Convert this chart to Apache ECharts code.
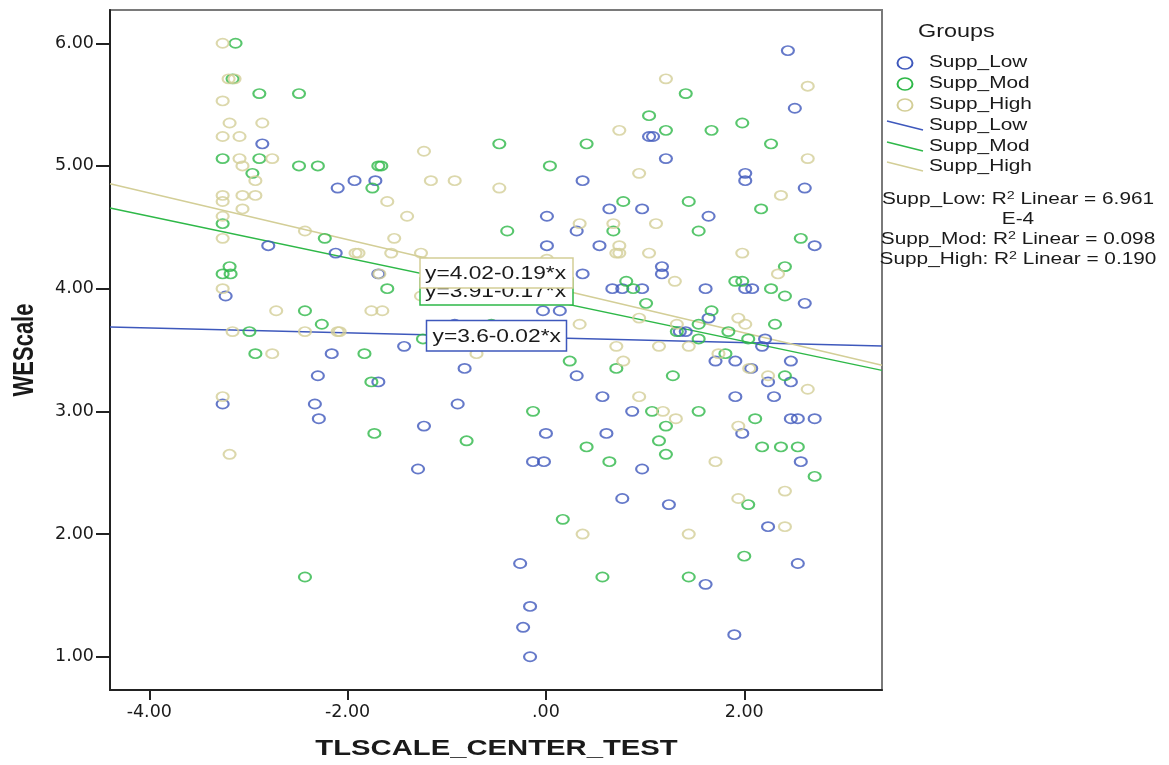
<!DOCTYPE html>
<html>
<head>
<meta charset="utf-8">
<script src="https://cdn.jsdelivr.net/npm/echarts@6/dist/echarts.min.js"></script>
<style>
html,body{margin:0;padding:0;background:#fff;}
#chart{width:1169px;height:765px;}
</style>
</head>
<body>
<div id="chart"></div>
<script>
// ---------------- data ----------------
const groupNames = ['Supp_Low', 'Supp_Mod', 'Supp_High'];
const groupColors = ['#3e58bc', '#2eb848', '#d3ce97'];

const lowData = [
  [-2.86,5.18],[-2.10,4.82],[-1.93,4.88],[-1.72,4.88],[-2.80,4.35],[-2.12,4.29],[-1.69,4.12],[-3.23,3.94],
  [-1.43,3.53],[-2.16,3.47],[-2.30,3.29],[-1.69,3.24],[-0.82,3.35],[-3.26,3.06],[-2.33,3.06],[-2.29,2.94],
  [-0.89,3.06],[-1.23,2.88],[-1.29,2.53],[-0.92,3.71],
  [2.44,5.94],[2.51,5.47],[1.04,5.24],[1.08,5.24],[1.21,5.06],[0.37,4.88],[2.01,4.94],[2.01,4.88],
  [2.61,4.82],[0.01,4.59],[0.64,4.65],[0.97,4.65],[1.64,4.59],[0.31,4.47],[2.71,4.35],[0.01,4.35],
  [0.54,4.35],[0.37,4.12],[1.17,4.18],[1.17,4.12],[1.61,4.00],[0.67,4.00],[0.77,4.00],[0.97,4.00],
  [-0.03,3.82],[0.14,3.82],[2.01,4.00],[2.08,4.00],[2.61,3.88],[1.64,3.76],[1.35,3.65],[1.41,3.65],
  [2.21,3.59],[2.18,3.53],[0.31,3.29],[1.71,3.41],[1.91,3.41],[2.07,3.35],[2.47,3.41],[2.24,3.24],
  [2.47,3.24],[0.57,3.12],[1.91,3.12],[2.30,3.12],[0.87,3.00],[2.47,2.94],[2.54,2.94],[2.71,2.94],
  [0.00,2.82],[0.61,2.82],[1.98,2.82],[-0.13,2.59],[-0.02,2.59],[0.97,2.53],[2.57,2.59],[0.77,2.29],
  [1.24,2.24],[2.24,2.06],[-0.26,1.76],[2.54,1.76],[1.61,1.59],[-0.16,1.41],[-0.23,1.24],[1.90,1.18],
  [-0.16,1.00]
];

const modData = [
  [-3.13,6.00],[-3.16,5.71],[-2.89,5.59],[-2.49,5.59],[-3.26,5.06],[-2.89,5.06],[-2.96,4.94],[-2.49,5.00],
  [-2.30,5.00],[-1.69,5.00],[-1.66,5.00],[-1.75,4.82],[-0.47,5.18],[-3.26,4.53],[-2.23,4.41],[-3.19,4.18],
  [-3.26,4.12],[-3.18,4.12],[-1.60,4.00],[-2.43,3.82],[-2.26,3.71],[-2.99,3.65],[-1.24,3.59],[-2.93,3.47],
  [-1.83,3.47],[-1.76,3.24],[-1.73,2.82],[-0.80,2.76],[-2.43,1.65],[-0.55,3.71],
  [1.41,5.59],[1.04,5.41],[1.21,5.29],[1.67,5.29],[1.98,5.35],[0.41,5.18],[2.27,5.18],[0.04,5.00],
  [0.78,4.71],[1.44,4.71],[2.17,4.65],[-0.39,4.47],[0.68,4.47],[1.54,4.47],[2.57,4.41],[0.81,4.06],
  [0.88,4.00],[1.01,3.88],[1.91,4.06],[1.98,4.06],[2.27,4.00],[2.41,4.18],[2.41,3.94],[1.67,3.82],
  [2.31,3.71],[1.32,3.65],[1.54,3.71],[1.54,3.59],[1.84,3.65],[2.04,3.59],[0.24,3.41],[0.71,3.35],
  [1.28,3.29],[1.81,3.47],[2.41,3.29],[-0.13,3.00],[1.07,3.00],[1.54,3.00],[2.11,2.94],[1.21,2.88],
  [1.14,2.76],[0.41,2.71],[1.21,2.65],[2.18,2.71],[2.37,2.71],[2.54,2.71],[0.64,2.59],[2.71,2.47],
  [2.04,2.24],[0.17,2.12],[2.00,1.82],[0.57,1.65],[1.44,1.65]
];

const highData = [
  [-3.26,6.00],[-3.20,5.71],[-3.14,5.71],[-3.26,5.53],[-3.19,5.35],[-2.86,5.35],[-3.26,5.24],[-3.09,5.24],
  [-3.09,5.06],[-3.06,5.00],[-2.76,5.06],[-2.93,4.88],[-1.23,5.12],[-1.16,4.88],[-0.92,4.88],[-0.47,4.82],
  [-3.26,4.76],[-3.26,4.71],[-3.06,4.76],[-2.93,4.76],[-3.06,4.65],[-1.60,4.71],[-1.40,4.59],[-3.26,4.59],
  [-3.26,4.41],[-2.43,4.47],[-1.53,4.41],[-1.92,4.29],[-1.89,4.29],[-1.56,4.29],[-1.26,4.29],[-1.68,4.12],
  [-3.26,4.00],[-1.26,3.94],[-2.72,3.82],[-1.76,3.82],[-1.65,3.82],[-3.16,3.65],[-2.43,3.65],[-2.10,3.65],
  [-2.08,3.65],[-2.76,3.47],[-0.70,3.47],[-3.26,3.12],[-3.19,2.65],
  [1.21,5.71],[2.64,5.65],[0.74,5.29],[2.64,5.06],[0.94,4.94],[2.37,4.76],[0.34,4.53],[0.68,4.53],
  [1.11,4.53],[0.74,4.35],[0.71,4.29],[0.74,4.29],[1.04,4.29],[1.98,4.29],[0.01,4.24],[1.30,4.06],
  [2.34,4.12],[0.94,3.76],[0.34,3.71],[1.32,3.71],[1.94,3.76],[2.01,3.71],[0.71,3.53],[1.14,3.53],
  [1.44,3.53],[0.78,3.41],[1.74,3.47],[2.05,3.35],[2.24,3.29],[2.64,3.18],[0.94,3.12],[1.18,3.00],
  [1.31,2.94],[1.94,2.88],[1.71,2.59],[2.41,2.35],[1.94,2.29],[0.37,2.00],[1.44,2.00],[2.41,2.06]
];

// linear fits as printed on the chart: y = intercept + slope * x
const fitIntercepts = [3.6, 3.91, 4.02];
const fitSlopes = [-0.02, -0.17, -0.19];
const fitLabels = ['y=3.6-0.02*x', 'y=3.91-0.17*x', 'y=4.02-0.19*x'];
const rSquaredLines = ['Supp_Low: R{s|2} Linear = 6.961', 'E-4', 'Supp_Mod: R{s|2} Linear = 0.098', 'Supp_High: R{s|2} Linear = 0.190'];

const xTicks = [-4, -2, 0, 2];
const yTicks = [1, 2, 3, 4, 5, 6];
const xRange = [-4.396, 3.389];
const yRange = [0.729, 6.271];

// ---------------- chart ----------------
const chart = echarts.init(document.getElementById('chart'), null, {renderer: 'canvas'});
const allData = [lowData, modData, highData];

const series = [];
groupNames.forEach((name, i) => {
  series.push({
    name: name + ' fit',
    type: 'line',
    data: xRange.map(x => [x, fitIntercepts[i] + fitSlopes[i] * x]),
    showSymbol: false,
    symbol: 'none',
    silent: true,
    z: 2,
    lineStyle: {color: groupColors[i], width: 1.5}
  });
});
groupNames.forEach((name, i) => {
  series.push({
    name: name,
    type: 'scatter',
    data: allData[i],
    symbol: 'circle',
    symbolSize: [12, 9.2],
    silent: true,
    z: 3,
    itemStyle: {color: 'rgba(255,255,255,0)', borderColor: groupColors[i], borderWidth: 1.9}
  });
});

const TXT = '#1a1a1a';
const SX = 1.3; // horizontal stretch of the original picture
const graphics = [];

// axis titles
graphics.push({type: 'text', x: 496.5, y: 748.5, scaleX: SX, z: 50,
  style: {text: 'TLSCALE_CENTER_TEST', fill: TXT, font: 'bold 22.5px "Liberation Sans"', textAlign: 'center', textVerticalAlign: 'middle'}});
graphics.push({type: 'text', x: 25, y: 350, rotation: Math.PI / 2, scaleY: SX, z: 50,
  style: {text: 'WEScale', fill: TXT, font: 'bold 22px "Liberation Sans"', textAlign: 'center', textVerticalAlign: 'middle'}});

// legend
graphics.push({type: 'text', x: 918, y: 32, scaleX: SX, z: 50,
  style: {text: 'Groups', fill: TXT, font: '18px "Liberation Sans"', textAlign: 'left', textVerticalAlign: 'middle'}});
const legendRowsY = [63, 84, 105, 126, 147, 167];
groupNames.forEach((name, i) => {
  graphics.push({type: 'circle', x: 905, y: legendRowsY[i], scaleX: 1.25, z: 50,
    shape: {cx: 0, cy: 0, r: 6}, style: {fill: 'none', stroke: groupColors[i], lineWidth: 1.6}});
  graphics.push({type: 'text', x: 929, y: legendRowsY[i], scaleX: SX, z: 50,
    style: {text: name, fill: TXT, font: '16px "Liberation Sans"', textAlign: 'left', textVerticalAlign: 'middle'}});
});
groupNames.forEach((name, i) => {
  const yy = legendRowsY[3 + i];
  graphics.push({type: 'line', z: 50, shape: {x1: 887, y1: yy - 5, x2: 923, y2: yy + 4},
    style: {stroke: groupColors[i], lineWidth: 1.5}});
  graphics.push({type: 'text', x: 929, y: yy, scaleX: SX, z: 50,
    style: {text: name, fill: TXT, font: '16px "Liberation Sans"', textAlign: 'left', textVerticalAlign: 'middle'}});
});
const r2Y = [200, 220, 240, 260];
rSquaredLines.forEach((t, i) => {
  graphics.push({type: 'text', x: 1018, y: r2Y[i], scaleX: SX, z: 50,
    style: {text: t, fill: TXT, font: '16px "Liberation Sans"', textAlign: 'center', textVerticalAlign: 'middle',
      rich: {s: {fontSize: 11, fontFamily: 'Liberation Sans', fill: TXT, padding: [0, 0, 9, 0]}}}});
});

// fit-line label boxes (green first, tan on top, then blue)
const boxes = [
  {i: 1, x: 420, y: 278, w: 153, h: 27, ty: 292.5, tx: 425},
  {i: 2, x: 420, y: 258, w: 153, h: 30, ty: 274, tx: 425},
  {i: 0, x: 426.5, y: 320.5, w: 140, h: 30.5, ty: 337, tx: 432.5}
];
boxes.forEach((b, k) => {
  graphics.push({type: 'rect', z: 60 + k * 2, shape: {x: b.x, y: b.y, width: b.w, height: b.h},
    style: {fill: '#fff', stroke: groupColors[b.i], lineWidth: 1.5}});
  graphics.push({type: 'text', z: 61 + k * 2, x: b.tx, y: b.ty, scaleX: SX,
    style: {text: fitLabels[b.i], fill: TXT, font: '17.5px "Liberation Sans"', textAlign: 'left', textVerticalAlign: 'middle'}});
});

chart.setOption({
  animation: false,
  backgroundColor: '#fff',
  grid: {left: 110, right: 287, top: 10, bottom: 75, show: true, borderColor: '#7a7a7a', borderWidth: 2,
    containLabel: false, outerBoundsMode: 'none'},
  xAxis: {
    type: 'value', min: xRange[0], max: xRange[1],
    splitLine: {show: false},
    axisLine: {show: true, onZero: false, lineStyle: {color: '#222', width: 2}},
    axisTick: {show: true, length: 10, customValues: xTicks, lineStyle: {color: '#222', width: 2}},
    axisLabel: {customValues: xTicks, margin: 13, color: TXT, fontFamily: 'DejaVu Sans', fontSize: 17.5,
      formatter: v => (Math.abs(v) < 1e-9 ? '.00' : v.toFixed(2))}
  },
  yAxis: {
    type: 'value', min: yRange[0], max: yRange[1],
    splitLine: {show: false},
    axisLine: {show: true, onZero: false, lineStyle: {color: '#222', width: 2}},
    axisTick: {show: true, length: 14, customValues: yTicks, lineStyle: {color: '#222', width: 2}},
    axisLabel: {customValues: yTicks, margin: 16, color: TXT, fontFamily: 'DejaVu Sans', fontSize: 17.5,
      formatter: v => v.toFixed(2)}
  },
  graphic: graphics,
  series: series
});
</script>
</body>
</html>
